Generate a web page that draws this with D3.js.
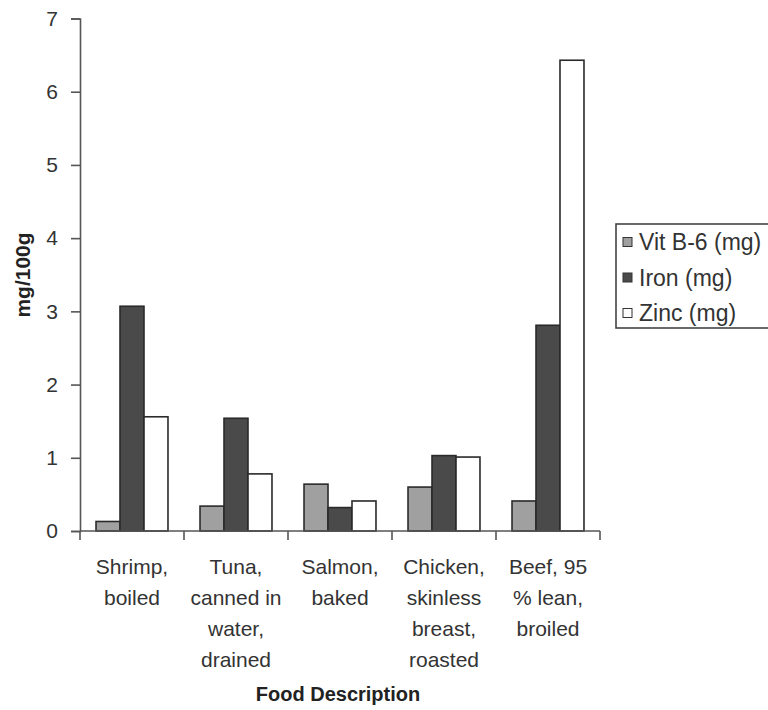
<!DOCTYPE html>
<html>
<head>
<meta charset="utf-8">
<script src="https://cdn.jsdelivr.net/npm/d3@7"></script>
<style>
  html, body { margin: 0; padding: 0; background: #fff; }
  svg { display: block; font-family: "Liberation Sans", Arial, sans-serif; }
</style>
</head>
<body>
<svg id="chart" width="768" height="710"></svg>
<script>
const categories = ["Shrimp, boiled", "Tuna, canned in water, drained", "Salmon, baked", "Chicken, skinless breast, roasted", "Beef, 95 % lean, broiled"];
const categoryLines = [
  ["Shrimp,", "boiled"],
  ["Tuna,", "canned in", "water,", "drained"],
  ["Salmon,", "baked"],
  ["Chicken,", "skinless", "breast,", "roasted"],
  ["Beef, 95", "% lean,", "broiled"]
];
const seriesNames = ["Vit B-6 (mg)", "Iron (mg)", "Zinc (mg)"];
const vitB6 = [0.13, 0.34, 0.64, 0.60, 0.41];
const iron  = [3.07, 1.54, 0.32, 1.03, 2.81];
const zinc  = [1.56, 0.78, 0.41, 1.01, 6.43];
const yTicks = [0, 1, 2, 3, 4, 5, 6, 7];
const seriesColors = ["#a0a0a0", "#4a4a4a", "#ffffff"];

const seriesValues = [vitB6, iron, zinc];
const svg = d3.select("#chart");
const x0 = 80, x1 = 600, yTop = 18.5, yBot = 531;
const axisColor = "#555";

const x = d3.scaleBand().domain(categories).range([x0, x1]).paddingInner(0.308).paddingOuter(0.154);
const xs = d3.scaleBand().domain(seriesNames).range([0, x.bandwidth()]);
const y = d3.scaleLinear().domain([0, 7]).range([yBot, yTop]);

// Bars
categories.forEach((c, ci) => {
  const g = svg.append("g").attr("transform", `translate(${x(c)},0)`);
  g.selectAll("rect").data(seriesNames.map((s, si) => ({ s, v: seriesValues[si][ci], color: seriesColors[si] })))
    .enter().append("rect")
    .attr("x", d => xs(d.s))
    .attr("y", d => y(d.v))
    .attr("width", xs.bandwidth())
    .attr("height", d => y(0) - y(d.v))
    .attr("fill", d => d.color)
    .attr("stroke", "#2a2a2a")
    .attr("stroke-width", 1.6);
});

// Y axis
const yAxis = svg.append("g").attr("transform", `translate(${x0},0)`)
  .call(d3.axisLeft(y).tickValues(yTicks).tickFormat(d3.format("d")).tickSize(9).tickPadding(13));
yAxis.select(".domain").attr("stroke", axisColor).attr("stroke-width", 1.6);
yAxis.selectAll(".tick line").attr("stroke", axisColor).attr("stroke-width", 1.6);
yAxis.selectAll(".tick text").attr("font-size", 21).attr("fill", "#333").attr("font-family", "Liberation Sans, Arial, sans-serif");

// X axis: category boundary ticks
const boundaries = categories.map(c => x(c) - x.step() * x.paddingInner() / 2).concat([x1]);
const xAxisG = svg.append("g");
xAxisG.append("line").attr("x1", x0).attr("x2", x1).attr("y1", yBot).attr("y2", yBot)
  .attr("stroke", axisColor).attr("stroke-width", 1.6);
xAxisG.selectAll("line.tk").data(boundaries).enter().append("line").attr("class", "tk")
  .attr("x1", d => d).attr("x2", d => d).attr("y1", yBot).attr("y2", yBot + 9)
  .attr("stroke", axisColor).attr("stroke-width", 1.6);

// Category labels
categories.forEach((c, ci) => {
  const cx = x(c) + x.bandwidth() / 2;
  const t = svg.append("text")
    .attr("x", cx)
    .attr("y", 574)
    .attr("text-anchor", "middle")
    .attr("font-size", 21)
    .attr("fill", "#333");
  categoryLines[ci].forEach((ln, li) => {
    t.append("tspan").attr("x", cx).attr("dy", li === 0 ? 0 : 31).text(ln);
  });
});

// Axis titles
svg.append("text").attr("x", 338).attr("y", 701).attr("text-anchor", "middle")
  .attr("font-size", 20).attr("font-weight", "bold").attr("fill", "#222").text("Food Description");
svg.append("text").attr("transform", "translate(30,275) rotate(-90)").attr("text-anchor", "middle")
  .attr("font-size", 21).attr("font-weight", "bold").attr("fill", "#222").text("mg/100g");

// Legend
const lg = svg.append("g").attr("transform", "translate(616,224)");
lg.append("rect").attr("x", 0).attr("y", 0).attr("width", 160).attr("height", 104)
  .attr("fill", "#fff").attr("stroke", "#444").attr("stroke-width", 1.6);
seriesNames.forEach((s, i) => {
  const cy = 18 + i * 35.5;
  lg.append("rect").attr("x", 7).attr("y", cy - 4.5).attr("width", 9).attr("height", 9)
    .attr("fill", seriesColors[i]).attr("stroke", "#333").attr("stroke-width", 1);
  lg.append("text").attr("x", 23).attr("y", cy + 8).attr("font-size", 23).attr("fill", "#333").text(s);
});
</script>
</body>
</html>
